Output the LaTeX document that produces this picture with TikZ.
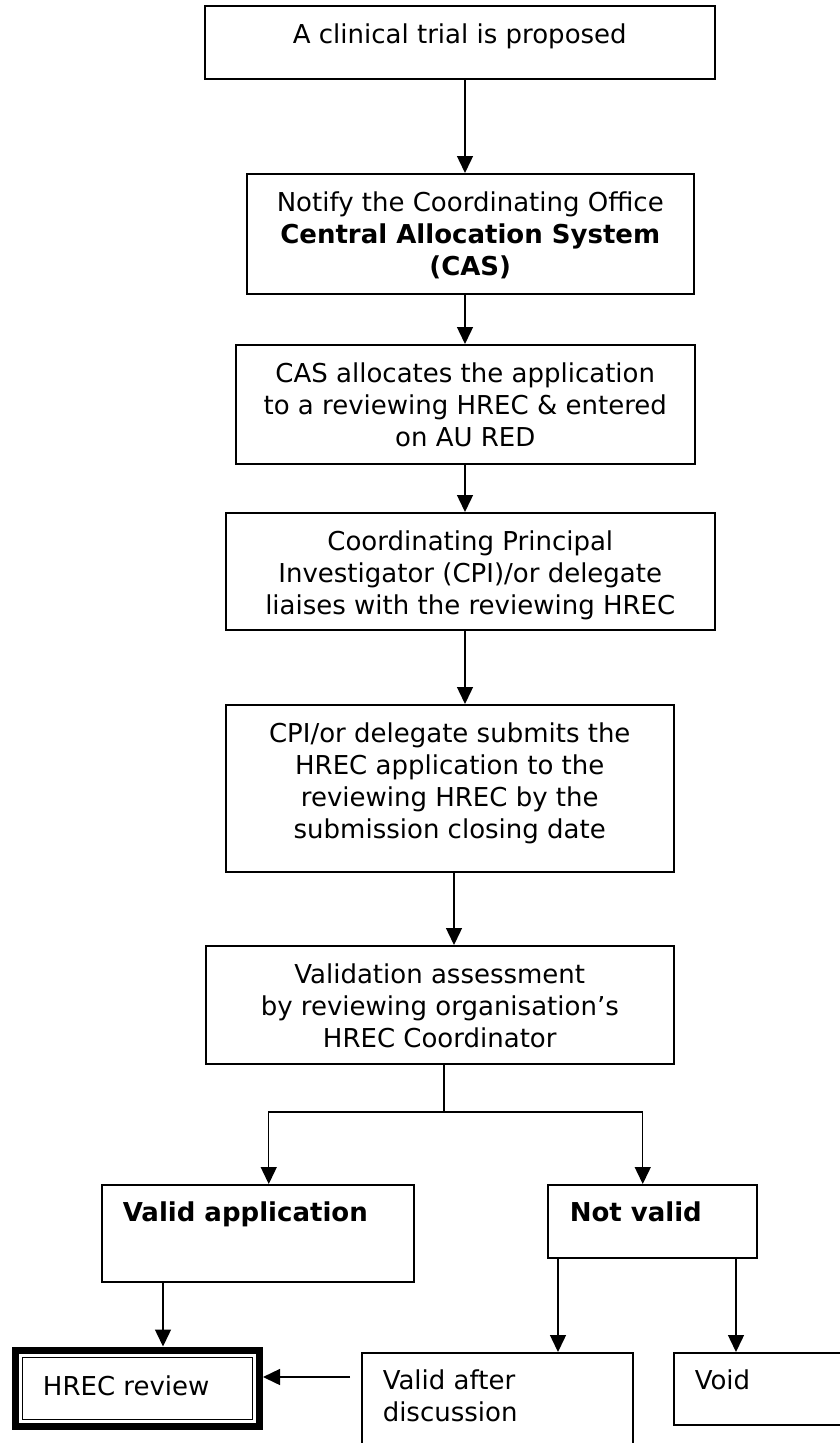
\documentclass[tikz,border=0pt]{standalone}
\usepackage{fontspec}
\setmainfont{DejaVu Sans}
\usetikzlibrary{arrows.meta}

% text set from the top of a box: width, height, text
\newcommand{\midtext}[3]{\parbox[t][#2pt][t]{#1pt}{\centering\rule{0pt}{38pt}#3}}
\newcommand{\lefttext}[4]{\parbox[t][#2pt][t]{#1pt}{\raggedright\leftskip=#4pt\rule{0pt}{37pt}#3}}

\tikzset{
  stepbox/.style={draw, line width=1.5pt, inner sep=0pt, anchor=north west},
  every node/.style={font=\fontsize{26}{32}\selectfont}
}

\begin{document}
\begin{tikzpicture}[x=1pt, y=-1pt, line width=1.4pt,
    >={Triangle[width=16pt,length=17pt]}]
    \path[use as bounding box, clip] (0,0) rectangle (840,1443);

    \node[stepbox] (trial) at (204,5) {\midtext{510}{73}{A clinical trial is proposed}};
    \node[stepbox] (notify) at (246,173) {\midtext{447}{120}{Notify the Coordinating Office\\
        \textbf{Central Allocation System}\\ \textbf{(CAS)}}};
    \node[stepbox] (alloc) at (235,344) {\midtext{459}{119}{CAS allocates the application\\
        to a reviewing HREC \& entered\\ on AU RED}};
    \node[stepbox] (liaise) at (225,512) {\midtext{489}{117}{Coordinating Principal\\
        Investigator (CPI)/or delegate\\ liaises with the reviewing HREC}};
    \node[stepbox] (submit) at (225,704) {\midtext{448}{167}{CPI/or delegate submits the\\
        HREC application to the\\ reviewing HREC by the\\ submission closing date}};
    \node[stepbox] (check) at (205,945) {\midtext{468}{118}{Validation assessment\\
        by reviewing organisation's\\ HREC Coordinator}};

    \node[stepbox] (validapp) at (101,1184) {\lefttext{312}{97}{\textbf{Valid application}}{21}};
    \node[stepbox] (notvalid) at (547,1184) {\lefttext{209}{73}{\textbf{Not valid}}{22}};
    \node[stepbox, line width=7pt] (hrec) at (12,1346.5) {\parbox[t][76.5pt][t]{244pt}{\leftskip=27.5pt\rule{0pt}{45pt}HREC review}};
    \draw[line width=1pt] ([shift={(10.5,10.5)}]hrec.north west) rectangle ([shift={(-10.5,-10.5)}]hrec.south east);
    \node[stepbox] (vafter) at (361,1352) {\lefttext{271}{120}{Valid after\\ discussion}{21}};
    \node[stepbox] (void) at (673,1352) {\lefttext{227}{72}{Void}{21}};

    \coordinate (spine) at (465,0);
    \coordinate (spine2) at (454,0);
    \coordinate (split) at (444,1112);
    \coordinate (lane1) at (163,0);
    \coordinate (lane2) at (558,0);
    \coordinate (lane3) at (736,0);
    \coordinate (back) at (350,1377);

    \draw[->] (trial.south -| spine) -- (notify.north -| spine);
    \draw[->] (notify.south -| spine) -- (alloc.north -| spine);
    \draw[->] (alloc.south -| spine) -- (liaise.north -| spine);
    \draw[->] (liaise.south -| spine) -- (submit.north -| spine);
    \draw[->] (submit.south -| spine2) -- (check.north -| spine2);
    \draw (check.south -| split) -- (split);
    \draw[->] (split) -| ([xshift=11pt]validapp.north);
    \draw[->] (split) -| ([xshift=-9.5pt]notvalid.north);
    \draw[->] (validapp.south -| lane1) -- (hrec.north -| lane1);
    \draw[->] (notvalid.south -| lane2) -- (vafter.north -| lane2);
    \draw[->] (notvalid.south -| lane3) -- (void.north -| lane3);
    \draw[->] (back) -- (back -| hrec.east);
\end{tikzpicture}
\end{document}
